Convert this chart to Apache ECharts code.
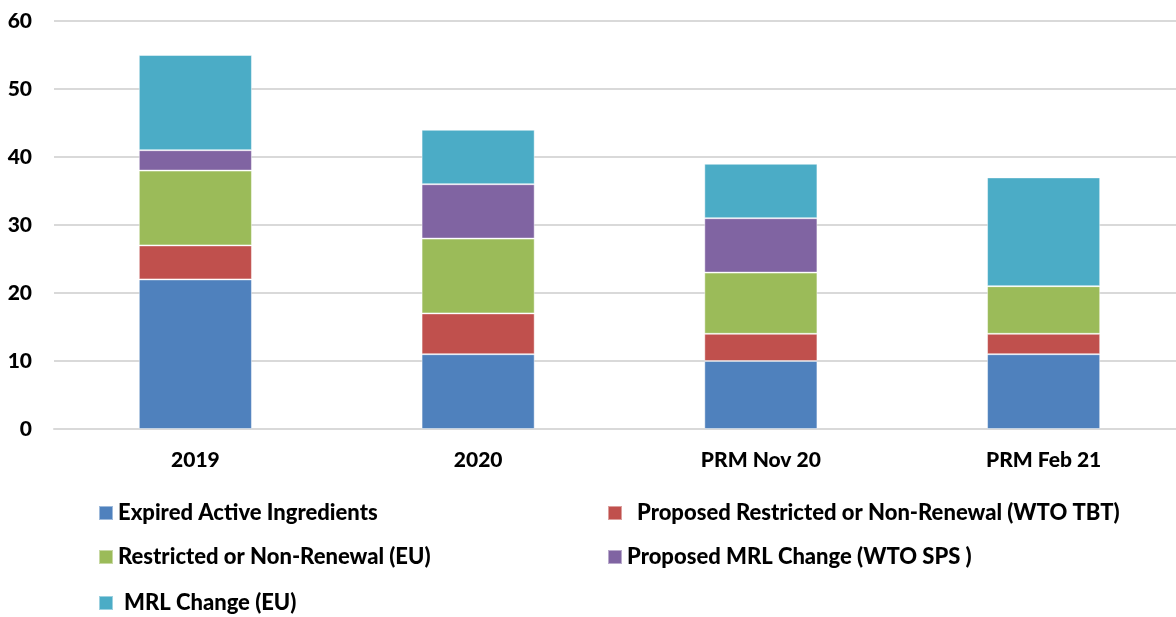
<!DOCTYPE html>
<html><head><meta charset="utf-8">
<script src="https://cdn.jsdelivr.net/npm/echarts@6/dist/echarts.min.js"></script>
<style>html,body{margin:0;padding:0;background:#fff;overflow:hidden}#c{width:1192px;height:617px}</style>
</head><body><div id="c"></div>
<script>
const categories = ['2019', '2020', 'PRM Nov 20', 'PRM Feb 21'];
const expired = [22, 11, 10, 11];
const proposedRestricted = [5, 6, 4, 3];
const restricted = [11, 11, 9, 7];
const proposedMRL = [3, 8, 8, 0];
const mrlChange = [14, 8, 8, 16];
const yTicks = [0, 10, 20, 30, 40, 50, 60];

const names = ['Expired Active Ingredients', 'Proposed Restricted or Non-Renewal (WTO TBT)',
  'Restricted or Non-Renewal (EU)', 'Proposed MRL Change (WTO SPS )', 'MRL Change (EU)'];
const colors = ['#4F81BD', '#C0504D', '#9BBB59', '#8064A2', '#4BACC6'];
const values = [expired, proposedRestricted, restricted, proposedMRL, mrlChange];
const font = 'Lato, "Open Sans", sans-serif';

const legendPos = [
  {left: 98, top: 502, pad: 5},
  {left: 607, top: 502, pad: 15},
  {left: 98, top: 546, pad: 5},
  {left: 607, top: 546, pad: 5},
  {left: 98, top: 592, pad: 11}
];

const chart = echarts.init(document.getElementById('c'));
chart.setOption({
  animation: false,
  grid: {left: 54, top: 21, width: 1131, height: 408, containLabel: false},
  xAxis: {
    type: 'category', data: categories,
    axisLine: {lineStyle: {color: '#d9d9d9', width: 2}},
    axisTick: {show: false},
    axisLabel: {color: '#000', fontWeight: 900, fontSize: 21, fontFamily: font, margin: 21}
  },
  yAxis: {
    type: 'value', min: yTicks[0], max: yTicks[yTicks.length - 1], interval: 10,
    axisLine: {show: false}, axisTick: {show: false},
    splitLine: {lineStyle: {color: '#d9d9d9', width: 2}},
    axisLabel: {color: '#000', fontWeight: 900, fontSize: 21, fontFamily: font, margin: 22}
  },
  legend: legendPos.map((p, i) => ({
    data: [names[i]], left: p.left, top: p.top, padding: 0,
    itemWidth: 14, itemHeight: 14, icon: 'rect', itemGap: 0,
    textStyle: {color: '#000', fontWeight: 900, fontSize: 22, fontFamily: font,
      padding: [0, 0, 0, p.pad - 5]}
  })),
  series: names.map((n, i) => ({
    name: n, type: 'bar', stack: 'total', data: values[i],
    barWidth: '40%',
    itemStyle: {color: colors[i], borderColor: 'rgba(255,255,255,0.45)', borderWidth: 1}
  }))
});
</script></body></html>
